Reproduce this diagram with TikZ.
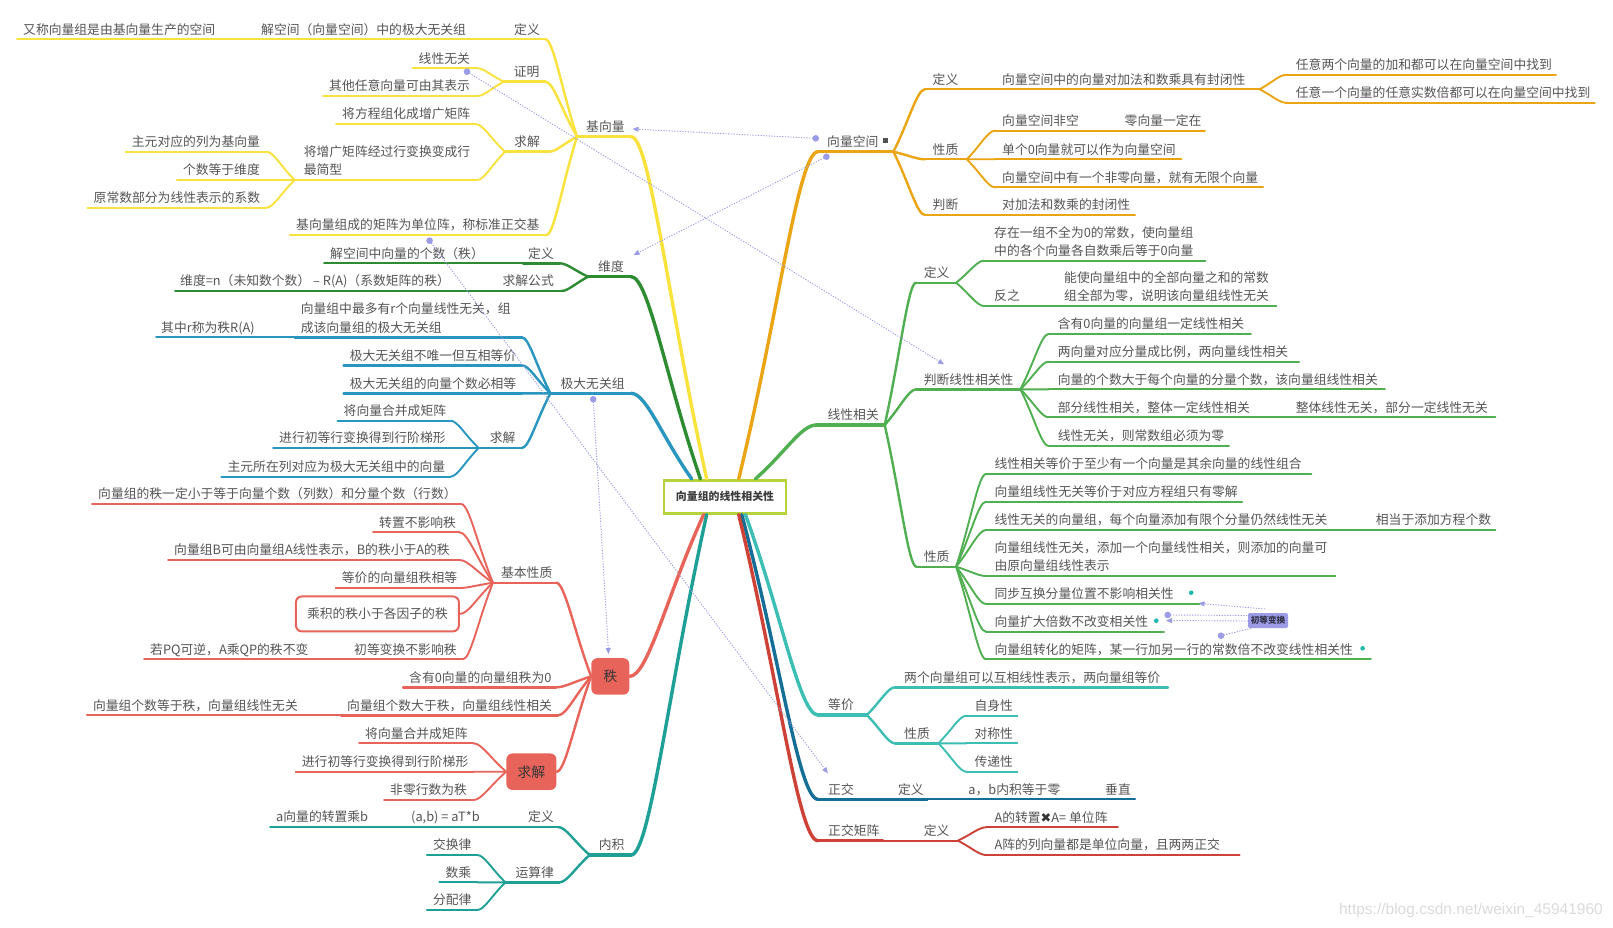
\documentclass[tikz,border=0pt]{standalone}
\usepackage{fontspec}
\usetikzlibrary{calc,arrows.meta}
\newfontfamily\cjk{Noto Sans CJK SC}
\newfontfamily\dvs{DejaVu Sans}
\newfontfamily\lsans{Liberation Sans}
\definecolor{cY}{RGB}{250,226,60}
\definecolor{cDG}{RGB}{45,140,50}
\definecolor{cB}{RGB}{40,150,190}
\definecolor{cR}{RGB}{232,100,90}
\definecolor{cT}{RGB}{30,160,150}
\definecolor{cO}{RGB}{235,165,20}
\definecolor{cG}{RGB}{80,175,80}
\definecolor{cC}{RGB}{60,190,180}
\definecolor{cDB}{RGB}{20,110,150}
\definecolor{cDR}{RGB}{205,65,55}
\definecolor{cL}{RGB}{155,155,230}
\definecolor{cBox}{RGB}{182,210,60}
\definecolor{txtc}{RGB}{85,85,85}
\definecolor{cDot}{RGB}{30,185,175}
\tikzset{
  tx/.style={font=\cjk\fontsize{12.8}{18.3}\selectfont, text=txtc, inner sep=0pt, text depth=5pt, anchor=south west},
  lv0/.style={line width=3.4pt, line cap=round},
  lv1/.style={line width=2.4pt, line cap=round},
  lv2/.style={line width=1.9pt, line cap=round},
  ctr/.style={draw=cBox, line width=2.6pt, fill=white, minimum width=122pt, minimum height=33pt, inner sep=0pt, font=\cjk\bfseries\fontsize{10.9}{13}\selectfont, text={rgb,255:red,60;green,60;blue,60}},
  rbox/.style={fill=cR, rounded corners=6pt, minimum height=36.5pt, inner sep=0pt, font=\cjk\fontsize{14}{16}\selectfont, text={rgb,255:red,55;green,55;blue,55}},
  rwbox/.style={draw=cR, line width=2pt, fill=white, rounded corners=6pt, minimum width=163pt, minimum height=35pt, inner sep=0pt, font=\cjk\fontsize{12.8}{16}\selectfont, text=txtc},
  lbox/.style={fill=cL, rounded corners=2pt, minimum width=40pt, minimum height=15pt, inner sep=0pt, font=\cjk\bfseries\fontsize{8.6}{10}\selectfont, text={rgb,255:red,50;green,50;blue,70}},
  rel/.style={draw=cL, line width=0.9pt, dash pattern=on 1.2pt off 1.5pt},
  rela/.style={rel, -{Triangle[length=6pt,width=5pt]}},
}
\newcommand\tpc[7][6]{%
  \pgfmathsetmacro\tpcw{#4-#3-#1}%
  \node[tx] (#2) at (#3,#5) {\hspace*{#1pt}\makebox[\tpcw pt][l]{#7}};%
  \draw[#6] (#2.south west) -- (#2.south east);}
\newcommand\conx[3][]{\draw[#1] let \p1=(#2), \p2=(#3) in (\p1) .. controls ({0.5*\x1+0.5*\x2},{0.5*\y1+0.5*\y2}) and ({0.75*\x2+0.25*\x1},\y2) .. (\p2);}
\newcommand\twol[2]{\begin{tabular}[b]{@{}l@{}}#1\\#2\end{tabular}}
\begin{document}
\begin{tikzpicture}[x=1pt,y=-1pt]
\fill[white] (0,0) rectangle (1613,928);
\useasboundingbox (0,0) rectangle (1613,928);

% ---------- centre ----------
\node[ctr] (C) at (725,496.7) {向量组的线性相关性};
\coordinate (sB) at ([xshift=29pt]C.north west);
\coordinate (sDG) at ([xshift=37.7pt]C.north west);
\coordinate (sY) at ([xshift=44pt]C.north west);
\coordinate (sO) at ([xshift=76pt]C.north west);
\coordinate (sG) at ([xshift=92.7pt]C.north west);
\coordinate (sR) at ([xshift=41pt]C.south west);
\coordinate (sT) at ([xshift=44pt]C.south west);
\coordinate (sDR) at ([xshift=76pt]C.south west);
\coordinate (sDB) at ([xshift=79pt]C.south west);
\coordinate (sC) at ([xshift=82.7pt]C.south west);

% ---------- yellow: 基向量 ----------
\tpc[9]{jxl}{577}{630.7}{136.7}{cY,lv0}{基向量}
\tpc[7]{jdy}{507}{545}{39.3}{cY,lv1}{定义}
\tpc{jdy1}{255}{507}{39.3}{cY,lv2}{解空间（向量空间）中的极大无关组}
\tpc{jdy2}{17}{255}{39.3}{cY,lv2}{又称向量组是由基向量生产的空间}
\tpc[10]{jzm}{503.6}{545}{81.7}{cY,lv1}{证明}
\tpc{jzm1}{412.5}{476.8}{68.3}{cY,lv2}{线性无关}
\tpc{jzm2}{323}{477}{96}{cY,lv2}{其他任意向量可由其表示}
\tpc[9]{jqj}{505}{548.6}{151.7}{cY,lv1}{求解}
\tpc{jqj1}{336}{475}{124}{cY,lv2}{将方程组化成增广矩阵}
\tpc[9]{jqj2}{294.6}{476.8}{180}{cY,lv2}{\twol{将增广矩阵经过行变换变成行}{最简型}}
\tpc{jqj21}{125.7}{266}{151.7}{cY,lv2}{主元对应的列为基向量}
\tpc{jqj22}{176.8}{266}{180}{cY,lv2}{个数等于维度}
\tpc{jqj23}{87.5}{266}{207.7}{cY,lv2}{原常数部分为线性表示的系数}
\tpc{jbz}{290}{546}{235}{cY,lv1}{基向量组成的矩阵为单位阵，称标准正交基}
\conx[cY,lv0]{sY}{jxl.south east}
\conx[cY,lv1]{jxl.south west}{jdy.south east}
\conx[cY,lv1]{jxl.south west}{jzm.south east}
\conx[cY,lv1]{jxl.south west}{jqj.south east}
\conx[cY,lv1]{jxl.south west}{jbz.south east}
\conx[cY,lv2]{jzm.south west}{jzm1.south east}
\conx[cY,lv2]{jzm.south west}{jzm2.south east}
\conx[cY,lv2]{jqj.south west}{jqj1.south east}
\conx[cY,lv2]{jqj.south west}{jqj2.south east}
\conx[cY,lv2]{jqj2.south west}{jqj21.south east}
\conx[cY,lv2]{jqj2.south west}{jqj22.south east}
\conx[cY,lv2]{jqj2.south west}{jqj23.south east}

% ---------- dark green: 维度 ----------
\tpc[10]{wd}{588}{630.7}{276.7}{cDG,lv0}{维度}
\tpc[5]{wddy}{523}{559.3}{263.3}{cDG,lv1}{定义}
\tpc{wddy1}{324}{523}{263.3}{cDG,lv2}{解空间中向量的个数（秩）}
\tpc{wdgs}{496.4}{561}{291}{cDG,lv1}{求解公式}
\tpc[5]{wdgs1}{175}{496.4}{291}{cDG,lv2}{维度=n（未知数个数） – R(A)（系数矩阵的秩）}
\conx[cDG,lv0]{sDG}{wd.south east}
\conx[cDG,lv1]{wd.south west}{wddy.south east}
\conx[cDG,lv1]{wd.south west}{wdgs.south east}

% ---------- blue: 极大无关组 ----------
\tpc[10]{jd}{550.4}{630.7}{393.3}{cB,lv0}{极大无关组}
\tpc{jd1}{294.6}{521.4}{337.3}{cB,lv1}{\twol{向量组中最多有r个向量线性无关，组}{成该向量组的极大无关组}}
\tpc[5]{jd11}{156}{294.6}{337.3}{cB,lv2}{其中r称为秩R(A)}
\tpc{jd2}{343.6}{521.4}{365.3}{cB,lv1}{极大无关组不唯一但互相等价}
\tpc{jd3}{343.6}{521.4}{393.3}{cB,lv1}{极大无关组的向量个数必相等}
\tpc[11]{jdqj}{478.6}{521.4}{448}{cB,lv1}{求解}
\tpc{jdqj1}{337.5}{450}{420.7}{cB,lv2}{将向量合并成矩阵}
\tpc{jdqj2}{273}{450}{448}{cB,lv2}{进行初等行变换得到行阶梯形}
\tpc{jdqj3}{221.4}{450}{476.7}{cB,lv2}{主元所在列对应为极大无关组中的向量}
\conx[cB,lv0]{sB}{jd.south east}
\conx[cB,lv1]{jd.south west}{jd1.south east}
\conx[cB,lv1]{jd.south west}{jd2.south east}
\conx[cB,lv1]{jd.south west}{jd3.south east}
\conx[cB,lv1]{jd.south west}{jdqj.south east}
\conx[cB,lv2]{jdqj.south west}{jdqj1.south east}
\conx[cB,lv2]{jdqj.south west}{jdqj2.south east}
\conx[cB,lv2]{jdqj.south west}{jdqj3.south east}

% ---------- red: 秩 ----------
\node[rbox, minimum width=38pt] (zhi) at (610.3,676.4) {秩};
\node[rbox, minimum width=50pt] (zqj) at (531.4,771.7) {求解};
\node[rwbox] (zjb5) at (377.4,613.9) {乘积的秩小于各因子的秩};
\tpc[8]{zjb}{492.9}{555.7}{582.7}{cR,lv1}{基本性质}
\tpc{zjb1}{92}{460.7}{504}{cR,lv2}{向量组的秩一定小于等于向量个数（列数）和分量个数（行数）}
\tpc{zjb2}{373}{459}{532.3}{cR,lv2}{转置不影响秩}
\tpc{zjb3}{168}{459}{560}{cR,lv2}{向量组B可由向量组A线性表示，B的秩小于A的秩}
\tpc{zjb4}{335.7}{459}{588}{cR,lv2}{等价的向量组秩相等}
\tpc{zjb6}{348}{462.5}{659.3}{cR,lv2}{初等变换不影响秩}
\tpc{zjb61}{144}{348}{659.3}{cR,lv2}{若PQ可逆，A乘QP的秩不变}
\tpc{zj0}{403}{555.7}{687.3}{cR,lv1}{含有0向量的向量组秩为0}
\tpc{zjxg}{341}{557.5}{715.3}{cR,lv1}{向量组个数大于秩，向量组线性相关}
\tpc{zjwg}{86.8}{341}{715.3}{cR,lv2}{向量组个数等于秩，向量组线性无关}
\tpc{zqj1}{359}{473}{743.3}{cR,lv2}{将向量合并成矩阵}
\tpc{zqj2}{295.7}{473}{771.7}{cR,lv2}{进行初等行变换得到行阶梯形}
\tpc{zqj3}{384}{473}{800}{cR,lv2}{非零行数为秩}
\conx[cR,lv0]{sR}{zhi.east}
\conx[cR,lv1]{zhi.west}{zjb.south east}
\conx[cR,lv1]{zhi.west}{zj0.south east}
\conx[cR,lv1]{zhi.west}{zjxg.south east}
\conx[cR,lv1]{zhi.west}{zqj.east}
\conx[cR,lv2]{zjb.south west}{zjb1.south east}
\conx[cR,lv2]{zjb.south west}{zjb2.south east}
\conx[cR,lv2]{zjb.south west}{zjb3.south east}
\conx[cR,lv2]{zjb.south west}{zjb4.south east}
\conx[cR,lv2]{zjb.south west}{zjb5.east}
\conx[cR,lv2]{zjb.south west}{zjb6.south east}
\conx[cR,lv2]{zqj.west}{zqj1.south east}
\conx[cR,lv2]{zqj.west}{zqj2.south east}
\conx[cR,lv2]{zqj.west}{zqj3.south east}

% ---------- teal: 内积 ----------
\tpc[9]{nj}{589.6}{630.7}{855}{cT,lv0}{内积}
\tpc{njdy}{522}{557.5}{827}{cT,lv1}{定义}
\tpc{njdy1}{405}{522}{827}{cT,lv2}{(a,b) = aT*b}
\tpc{njdy2}{270}{405}{827}{cT,lv2}{a向量的转置乘b}
\tpc[10]{njys}{505.4}{559}{882.3}{cT,lv1}{运算律}
\tpc{njys1}{426.8}{476.8}{855}{cT,lv2}{交换律}
\tpc{njys2}{439.3}{476.8}{882.3}{cT,lv2}{数乘}
\tpc{njys3}{426.8}{476.8}{910}{cT,lv2}{分配律}
\conx[cT,lv0]{sT}{nj.south east}
\conx[cT,lv1]{nj.south west}{njdy.south east}
\conx[cT,lv1]{nj.south west}{njys.south east}
\conx[cT,lv2]{njys.south west}{njys1.south east}
\conx[cT,lv2]{njys.south west}{njys2.south east}
\conx[cT,lv2]{njys.south west}{njys3.south east}

% ---------- orange: 向量空间 ----------
\tpc[9]{kj}{818}{893}{151.7}{cO,lv0}{向量空间}
\node[fill={rgb,255:red,80;green,80;blue,80}, minimum width=5.5pt, minimum height=4.5pt, inner sep=0pt] (kjicon) at (885.5,140.5) {};
\tpc[7.5]{kjdy}{925}{995}{89.3}{cO,lv1}{定义}
\tpc[7]{kjdy1}{995}{1259.3}{89.3}{cO,lv2}{向量空间中的向量对加法和数乘具有封闭性}
\tpc[10]{kjdy11}{1285.7}{1555.6}{75}{cO,lv2}{任意两个向量的加和都可以在向量空间中找到}
\tpc[10]{kjdy12}{1285.7}{1594.4}{102.7}{cO,lv2}{任意一个向量的任意实数倍都可以在向量空间中找到}
\tpc[7.5]{kjxz}{925}{966.4}{159.3}{cO,lv1}{性质}
\tpc[7]{kjxz1}{995}{1117}{130.7}{cO,lv2}{向量空间非空}
\tpc[7.5]{kjxz11}{1117}{1204.6}{130.7}{cO,lv2}{零向量一定在}
\tpc[7]{kjxz2}{995}{1181}{159.3}{cO,lv2}{单个0向量就可以作为向量空间}
\tpc[7]{kjxz3}{995}{1262.8}{187.3}{cO,lv2}{向量空间中有一个非零向量，就有无限个向量}
\tpc[7.5]{kjpd}{925}{995}{215}{cO,lv1}{判断}
\tpc[7]{kjpd1}{995}{1134.8}{215}{cO,lv2}{对加法和数乘的封闭性}
\conx[cO,lv0]{sO}{kj.south west}
\conx[cO,lv1]{kj.south east}{kjdy.south west}
\conx[cO,lv1]{kj.south east}{kjxz.south west}
\conx[cO,lv1]{kj.south east}{kjpd.south west}
\conx[cO,lv2]{kjdy1.south east}{kjdy11.south west}
\conx[cO,lv2]{kjdy1.south east}{kjdy12.south west}
\conx[cO,lv2]{kjxz.south east}{kjxz1.south west}
\conx[cO,lv2]{kjxz.south east}{kjxz2.south west}
\conx[cO,lv2]{kjxz.south east}{kjxz3.south west}

% ---------- green: 线性相关 ----------
\tpc[11]{xg}{816.4}{884.3}{425}{cG,lv0}{线性相关}
\tpc[7.6]{xgdy}{916}{955.7}{282.7}{cG,lv1}{定义}
\tpc[10]{xgdy1}{984}{1205}{260.7}{cG,lv2}{\twol{存在一组不全为0的常数，使向量组}{中的各个向量各自数乘后等于0向量}}
\tpc[10]{xgdy2}{984}{1055}{306}{cG,lv2}{反之}
\tpc[9]{xgdy21}{1055}{1275.9}{306}{cG,lv2}{\twol{能使向量组中的全部向量之和的常数}{组全部为零，说明该向量组线性无关}}
\tpc[7.2]{xgpd}{916.4}{1020}{389.3}{cG,lv1}{判断线性相关性}
\tpc[9]{xgpd1}{1048.6}{1250.5}{334}{cG,lv2}{含有0向量的向量组一定线性相关}
\tpc[9]{xgpd2}{1048.6}{1298.8}{361.7}{cG,lv2}{两向量对应分量成比例，两向量线性相关}
\tpc[9]{xgpd3}{1048.6}{1384.5}{389.3}{cG,lv2}{向量的个数大于每个向量的分量个数，该向量组线性相关}
\tpc[9]{xgpd4}{1048.6}{1256}{417.3}{cG,lv2}{部分线性相关，整体一定线性相关}
\tpc[39.6]{xgpd41}{1256}{1495}{417.3}{cG,lv2}{整体线性无关，部分一定线性无关}
\tpc[9]{xgpd5}{1048.6}{1228.6}{446}{cG,lv2}{线性无关，则常数组必须为零}
\tpc[7.2]{xgxz}{916.4}{955.7}{566.7}{cG,lv1}{性质}
\tpc[8.3]{xgxz1}{986}{1311}{474}{cG,lv2}{线性相关等价于至少有一个向量是其余向量的线性组合}
\tpc[8.3]{xgxz2}{986}{1241.7}{501.7}{cG,lv2}{向量组线性无关等价于对应方程组只有零解}
\tpc[8.3]{xgxz3}{986}{1335}{530}{cG,lv2}{线性无关的向量组，每个向量添加有限个分量仍然线性无关}
\tpc[40.7]{xgxz31}{1335}{1495}{530}{cG,lv2}{相当于添加方程个数}
\tpc[8.3]{xgxz4}{986}{1335}{576}{cG,lv2}{\twol{向量组线性无关，添加一个向量线性相关，则添加的向量可}{由原向量组线性表示}}
\tpc[8.3]{xgxz5}{986}{1199.3}{604}{cG,lv2}{同步互换分量位置不影响相关性}
\tpc[8.3]{xgxz6}{986}{1163.4}{631.7}{cG,lv2}{向量扩大倍数不改变相关性}
\tpc[8.3]{xgxz7}{986}{1370.4}{659.3}{cG,lv2}{向量组转化的矩阵，某一行加另一行的常数倍不改变线性相关性}
\conx[cG,lv0]{sG}{xg.south west}
\conx[cG,lv1]{xg.south east}{xgdy.south west}
\conx[cG,lv1]{xg.south east}{xgpd.south west}
\conx[cG,lv1]{xg.south east}{xgxz.south west}
\conx[cG,lv2]{xgdy.south east}{xgdy1.south west}
\conx[cG,lv2]{xgdy.south east}{xgdy2.south west}
\conx[cG,lv2]{xgpd.south east}{xgpd1.south west}
\conx[cG,lv2]{xgpd.south east}{xgpd2.south west}
\conx[cG,lv2]{xgpd.south east}{xgpd3.south west}
\conx[cG,lv2]{xgpd.south east}{xgpd4.south west}
\conx[cG,lv2]{xgpd.south east}{xgpd5.south west}
\conx[cG,lv2]{xgxz.south east}{xgxz1.south west}
\conx[cG,lv2]{xgxz.south east}{xgxz2.south west}
\conx[cG,lv2]{xgxz.south east}{xgxz3.south west}
\conx[cG,lv2]{xgxz.south east}{xgxz4.south west}
\conx[cG,lv2]{xgxz.south east}{xgxz5.south west}
\conx[cG,lv2]{xgxz.south east}{xgxz6.south west}
\conx[cG,lv2]{xgxz.south east}{xgxz7.south west}
\fill[cDot] (1191.2,592.7) circle (2.3pt);
\fill[cDot] (1156.3,620.7) circle (2.3pt);
\fill[cDot] (1362.6,648.3) circle (2.3pt);

% ---------- cyan: 等价 ----------
\tpc[10]{dj}{818}{866.4}{715}{cC,lv0}{等价}
\tpc[9]{dj1}{895}{1167.6}{687.3}{cC,lv1}{两个向量组可以互相线性表示，两向量组等价}
\tpc[9]{djxz}{895}{937.9}{743.3}{cC,lv1}{性质}
\tpc[8]{djxz1}{966.4}{1017}{715.7}{cC,lv2}{自身性}
\tpc[8]{djxz2}{966.4}{1017}{743.3}{cC,lv2}{对称性}
\tpc[8]{djxz3}{966.4}{1017}{771.7}{cC,lv2}{传递性}
\conx[cC,lv0]{sC}{dj.south west}
\conx[cC,lv1]{dj.south east}{dj1.south west}
\conx[cC,lv1]{dj.south east}{djxz.south west}
\conx[cC,lv2]{djxz.south east}{djxz1.south west}
\conx[cC,lv2]{djxz.south east}{djxz2.south west}
\conx[cC,lv2]{djxz.south east}{djxz3.south west}

% ---------- dark blue: 正交 ----------
\tpc[10]{zj}{818}{857.5}{799.3}{cDB,lv0}{正交}
\tpc[40.4]{zjdy}{857.5}{927}{799.3}{cDB,lv1}{定义}
\tpc[41.2]{zjdy1}{927}{1064.6}{799.3}{cDB,lv2}{a，b内积等于零}
\tpc[40.4]{zjdy11}{1064.6}{1134.8}{799.3}{cDB,lv2}{垂直}
\conx[cDB,lv0]{sDB}{zj.south west}

% ---------- dark red: 正交矩阵 ----------
\tpc[10]{zjz}{818}{882.5}{840.7}{cDR,lv0}{正交矩阵}
\tpc[41.1]{zjzdy}{882.5}{957.5}{840.7}{cDR,lv1}{定义}
\tpc[8.3]{zjz1}{986}{1117.5}{827.3}{cDR,lv2}{A的转置{\dvs\color{black!80}✖}A= 单位阵}
\tpc[8.3]{zjz2}{986}{1239.2}{855}{cDR,lv2}{A阵的列向量都是单位向量，且两两正交}
\conx[cDR,lv0]{sDR}{zjz.south west}
\conx[cDR,lv2]{zjzdy.south east}{zjz1.south west}
\conx[cDR,lv2]{zjzdy.south east}{zjz2.south west}

% ---------- relationships ----------
\coordinate (rA0) at (815.7,138.3); \coordinate (rA1) at (632.5,129);
\coordinate (rB0) at (826.4,156.7); \coordinate (rB1) at (633.6,255);
\coordinate (rC0) at (467,71.7);    \coordinate (rC1) at (944,364.3);
\coordinate (rD0) at (429.6,240.7); \coordinate (rD1) at (827.9,773.3);
\coordinate (rE0) at (593.2,399.3); \coordinate (rE1) at (608.6,654);
\draw[rela] (rA0) -- (rA1);
\draw[rela] (rB0) -- (rB1);
\draw[rela] (rC0) -- (rC1);
\draw[rela] (rD0) -- (rD1);
\draw[rela] (rE0) -- (rE1);
\foreach \d in {rA0,rB0,rC0,rD0,rE0} \fill[cL] (\d) circle (3.3pt);

\node[lbox] (cd) at (1268,620.5) {初等变换};
\coordinate (rF1) at (1265,609);    \coordinate (rF1t) at (1198.5,603.3);
\coordinate (rF2) at (1167.7,615);
\coordinate (rF3t) at (1166,620.5);
\coordinate (rF4) at (1221,635.7);
\draw[rela] (rF1) -- (rF1t);
\draw[rel] (rF2) -- ([yshift=5pt]cd.west);
\draw[rela] ([yshift=-0.5pt]cd.west) -- (rF3t);
\draw[rel] (rF4) -- ([xshift=4pt]cd.south west);
\fill[cL] (rF2) circle (3.3pt);
\fill[cL] (rF4) circle (3.3pt);

% ---------- watermark ----------
\node[anchor=east, inner sep=0pt, font=\lsans\fontsize{15.5}{17}\selectfont, text=black!14] (wm) at (1603,910) {https://blog.csdn.net/weixin\_45941960};
\end{tikzpicture}
\end{document}
